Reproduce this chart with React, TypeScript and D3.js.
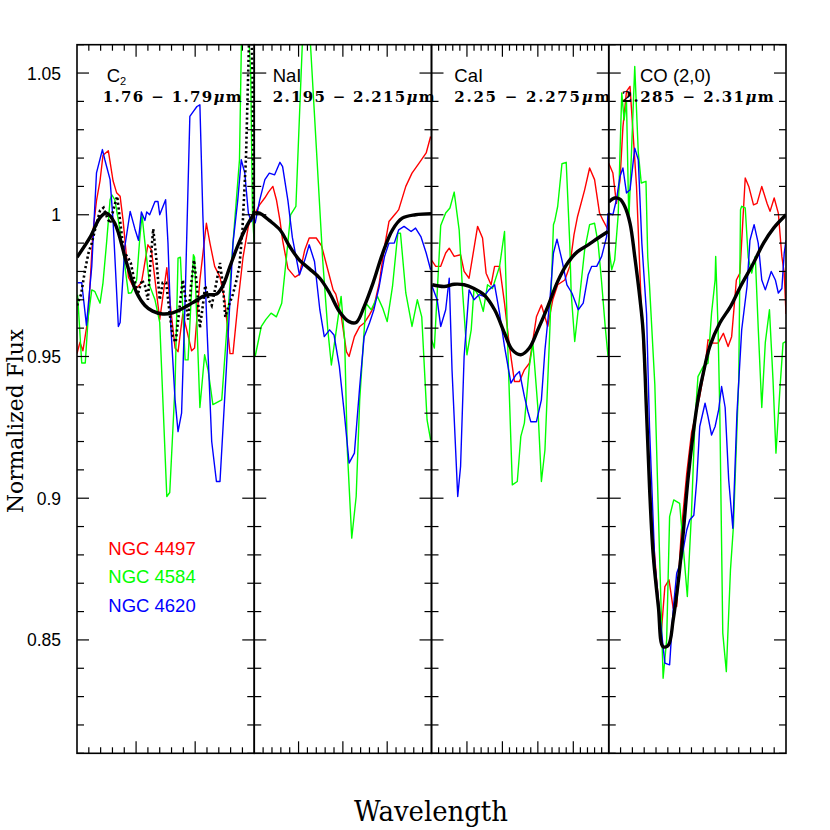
import React from 'react';
import * as d3 from 'd3';

type Pt = [number, number];

// wavelength ranges of the four panels (Angstrom)
const panelDomains: [number, number][] = [[17600, 17900], [21950, 22150], [22500, 22750], [22850, 23150]];
const majorSteps = [100, 50, 50, 100];
const minorSteps = [20, 10, 10, 20];
const speciesLabels = ['C', 'NaI', 'CaI', 'CO (2,0)'];
const rangeLabels = ['1.76 \u2212 1.79', '2.195 \u2212 2.215', '2.25 \u2212 2.275', '2.285 \u2212 2.31'];
const yTickValues = [0.85, 0.9, 0.95, 1, 1.05];
const yTickLabels = ['0.85', '0.9', '0.95', '1', '1.05'];
const galaxies = ['NGC 4497', 'NGC 4584', 'NGC 4620'];
const galaxyColors = ['#ff0000', '#00ff00', '#0000ff'];

// NGC 4497 (red)
const ngc4497: Pt[][] = [
  [[17600,0.951],[17605,0.955],[17610,0.952],[17619,0.964],[17627,0.994],[17633,1.005],[17639,1.012],[17644,1.021],[17653,1.0226],[17661,1.012],[17667,1.0078],[17673,1.0065],[17678,0.998],[17687,0.978],[17698,0.9735],[17709,0.976],[17720,0.9894],[17726,0.9876],[17740,0.963],[17752,0.9813],[17757,0.970],[17766,0.953],[17771,0.9517],[17779,0.965],[17785,0.960],[17794,0.952],[17799,0.953],[17808,0.977],[17819,0.997],[17825,0.990],[17833,0.9818],[17842,0.978],[17850,0.970],[17859,0.951],[17864,0.951],[17873,0.970],[17881,0.985],[17890,0.9959],[17900,1.0018]],
  [[21951,1.0006],[21956,1.0035],[21962,1.006],[21966,1.008],[21971,1.01],[21975,1.0053],[21979,0.998],[21982,0.991],[21988,0.981],[21996,0.978],[22001,0.979],[22007,0.9876],[22012,0.9918],[22020,0.9918],[22026,0.989],[22033,0.9806],[22039,0.9735],[22042,0.972],[22048,0.9647],[22054,0.9517],[22057,0.950],[22063,0.957],[22069,0.9606],[22074,0.9618],[22080,0.9647],[22085,0.9676],[22091,0.9759],[22097,0.9888],[22102,0.9976],[22110,1.0006],[22113,1.0018],[22121,1.01],[22128,1.0147],[22136,1.0182],[22144,1.0218],[22149,1.0276]],
  [[22500,0.984],[22506,0.9818],[22513,0.9818],[22520,0.9865],[22525,0.9882],[22532,0.9853],[22541,0.9859],[22546,0.98],[22553,0.9776],[22565,0.9959],[22572,0.9918],[22577,0.9794],[22584,0.9753],[22589,0.9818],[22596,0.9818],[22603,0.9688],[22610,0.9535],[22617,0.9412],[22624,0.9412],[22631,0.9453],[22638,0.9476],[22648,0.964],[22655,0.9682],[22664,0.9606],[22671,0.970],[22678,0.9753],[22688,0.977],[22695,0.9818],[22701,0.993],[22706,0.9994],[22716,1.0088],[22723,1.0165],[22730,1.0124],[22737,1.0006],[22742,0.998],[22749,0.9947]],
  [[22850,1.0182],[22857,1.0147],[22863,1.004],[22869,1.012],[22874,1.031],[22880,1.0435],[22886,1.0453],[22897,1.01],[22905,0.968],[22914,0.930],[22922,0.8948],[22931,0.8712],[22939,0.8529],[22945,0.8688],[22952,0.8712],[22959,0.8612],[22965,0.8618],[22973,0.8888],[22982,0.9088],[22990,0.923],[22999,0.9312],[23004,0.9359],[23013,0.9465],[23018,0.9559],[23027,0.9547],[23035,0.9547],[23044,0.9582],[23052,0.9535],[23058,0.957],[23066,0.977],[23072,0.9794],[23081,1.013],[23087,1.01],[23095,1.0035],[23101,1.004],[23109,1.01],[23118,1.004],[23123,1.0012],[23130,1.0059],[23137,1.0006],[23143,0.9853],[23147,0.9794],[23150,0.965]],
];

// NGC 4584 (green)
const ngc4584: Pt[][] = [
  [[17601,0.9718],[17608,0.9477],[17614,0.9477],[17619,0.964],[17625,0.9735],[17630,0.973],[17639,0.9688],[17644,0.976],[17650,0.99],[17656,1.0053],[17659,1.007],[17664,1.0053],[17670,0.998],[17676,0.990],[17687,0.9723],[17692,0.9725],[17701,0.977],[17706,0.991],[17710,1.0],[17715,0.99],[17723,0.975],[17732,0.97],[17740,0.962],[17752,0.9006],[17757,0.902],[17766,0.94],[17771,0.9847],[17775,0.985],[17783,0.9488],[17788,0.9488],[17797,0.9859],[17799,0.985],[17808,0.932],[17816,0.9506],[17822,0.945],[17830,0.933],[17845,0.9347],[17853,0.958],[17864,0.990],[17875,1.0194],[17879,1.07],[17889,1.07],[17894,1.05],[17897,1.0],[17900,0.99]],
  [[21951,0.950],[21958,0.9606],[21963,0.963],[21969,0.9653],[21975,0.964],[21981,0.9688],[21986,0.984],[21991,1.0],[21997,1.003],[22008,1.09],[22026,0.991],[22027,0.985],[22033,0.9594],[22037,0.947],[22042,0.958],[22048,0.9712],[22052,0.9559],[22055,0.917],[22060,0.8859],[22065,0.9006],[22069,0.9347],[22076,0.9688],[22082,0.9665],[22089,0.9712],[22095,0.967],[22100,0.9623],[22106,0.9747],[22112,0.9935],[22115,0.9935],[22121,0.9724],[22128,0.9606],[22134,0.970],[22139,0.964],[22145,0.9276],[22149,0.9206]],
  [[22500,0.956],[22504,0.953],[22513,0.9962],[22520,1.0006],[22526,1.0024],[22532,1.008],[22539,0.9947],[22544,0.9724],[22550,0.9506],[22556,0.9594],[22560,0.974],[22567,0.9712],[22573,0.9659],[22579,0.9753],[22586,0.974],[22596,0.9818],[22603,0.9941],[22608,0.95],[22614,0.9047],[22621,0.9059],[22626,0.9218],[22631,0.9265],[22638,0.9465],[22643,0.9547],[22650,0.932],[22655,0.9059],[22660,0.917],[22667,0.96],[22672,0.9965],[22674,0.998],[22678,1.003],[22684,1.018],[22690,1.0185],[22695,0.99],[22697,0.9724],[22702,0.9553],[22709,0.9712],[22716,0.9876],[22723,0.9965],[22730,0.997],[22735,0.99],[22740,0.976],[22745,0.9606],[22749,0.950]],
  [[22850,0.989],[22855,0.9806],[22860,0.984],[22866,1.0],[22872,1.043],[22876,1.0335],[22880,1.04],[22884,0.998],[22889,1.025],[22894,1.0523],[22900,1.022],[22905,1.0112],[22913,1.0118],[22916,0.985],[22919,0.975],[22928,0.94],[22936,0.88],[22942,0.8365],[22948,0.85],[22953,0.8935],[22960,0.8994],[22970,0.8982],[22976,0.8829],[22983,0.8653],[22990,0.8947],[22996,0.9276],[23001,0.9429],[23010,0.9465],[23018,0.9476],[23024,0.9653],[23030,0.977],[23031,0.9853],[23035,0.96],[23038,0.930],[23043,0.8524],[23049,0.8388],[23056,0.8747],[23061,0.89],[23070,0.9418],[23073,1.0018],[23075,1.003],[23081,1.0024],[23086,0.985],[23092,0.9794],[23098,0.9853],[23103,0.96],[23109,0.932],[23115,0.955],[23122,0.9665],[23128,0.9418],[23133,0.9159],[23140,0.9394],[23145,0.9547],[23150,0.9553]],
];

// NGC 4620 (blue)
const ngc4620: Pt[][] = [
  [[17601,0.976],[17608,0.976],[17616,0.961],[17625,0.9818],[17633,1.0148],[17643,1.023],[17647,1.0195],[17656,1.0124],[17661,0.998],[17670,0.9606],[17673,0.962],[17681,0.9888],[17690,1.0012],[17698,0.995],[17704,0.991],[17709,1.001],[17715,0.998],[17718,1.001],[17723,1.0],[17732,1.0047],[17737,1.0047],[17740,1.0],[17750,1.0053],[17754,0.99],[17759,0.96],[17766,0.9347],[17771,0.9235],[17777,0.93],[17783,0.97],[17791,1.0347],[17797,1.0365],[17803,1.0382],[17808,1.0388],[17813,1.0],[17820,0.96],[17828,0.92],[17836,0.9059],[17842,0.9059],[17853,0.9465],[17864,0.990],[17872,1.005],[17878,1.0194],[17884,1.0147],[17890,1.0006],[17895,0.9976],[17900,0.9994]],
  [[21951,0.997],[21956,1.005],[21962,1.0124],[21967,1.0147],[21973,1.0141],[21979,1.0185],[21982,1.017],[21988,1.005],[21993,0.992],[22001,0.9788],[22007,0.984],[22012,0.9894],[22018,0.9835],[22024,0.9665],[22029,0.957],[22035,0.9594],[22040,0.9576],[22046,0.9465],[22052,0.9288],[22057,0.9124],[22063,0.9159],[22069,0.9394],[22074,0.957],[22080,0.9618],[22085,0.9665],[22091,0.9747],[22097,0.9853],[22102,0.990],[22108,0.990],[22113,0.9947],[22119,0.9959],[22127,0.9941],[22132,0.9953],[22138,0.9923],[22144,0.9865],[22149,0.9806]],
  [[22500,0.9753],[22508,0.970],[22513,0.9606],[22520,0.9665],[22525,0.9776],[22529,0.945],[22537,0.9006],[22541,0.9112],[22546,0.95],[22553,0.9735],[22560,0.970],[22567,0.9718],[22574,0.9712],[22581,0.9735],[22589,0.9753],[22596,0.9653],[22603,0.9535],[22612,0.9406],[22619,0.9435],[22624,0.9447],[22631,0.9359],[22636,0.9306],[22640,0.927],[22648,0.927],[22655,0.9347],[22660,0.9523],[22667,0.970],[22672,0.9865],[22677,0.9914],[22684,0.984],[22691,0.9753],[22698,0.9724],[22707,0.9665],[22714,0.9688],[22721,0.9788],[22726,0.9818],[22733,0.9818],[22740,0.9853],[22747,0.9923],[22749,1.0006]],
  [[22850,1.0006],[22857,1.0],[22863,1.0053],[22869,1.0135],[22874,1.0165],[22880,1.0077],[22886,1.0088],[22894,1.0235],[22900,1.0194],[22906,0.99],[22914,0.965],[22919,0.925],[22928,0.877],[22936,0.8594],[22945,0.8418],[22953,0.8412],[22959,0.8606],[22965,0.8735],[22973,0.8782],[22982,0.8888],[22987,0.8923],[22994,0.894],[22999,0.9065],[23004,0.9253],[23013,0.9335],[23018,0.9288],[23024,0.9223],[23030,0.9253],[23036,0.9312],[23041,0.9394],[23047,0.932],[23053,0.9065],[23060,0.8894],[23067,0.930],[23075,0.9594],[23084,0.9747],[23089,0.991],[23096,0.9965],[23103,0.990],[23109,0.977],[23115,0.9735],[23125,0.98],[23132,0.977],[23137,0.9724],[23143,0.974],[23147,0.9865],[23150,0.991]],
];

// smooth template (thick black)
const template: Pt[][] = [
  [[17600,0.985],[17622,0.992],[17639,0.999],[17650,1.0006],[17664,0.997],[17684,0.983],[17701,0.9725],[17715,0.968],[17728,0.966],[17745,0.965],[17762,0.9654],[17779,0.967],[17796,0.969],[17819,0.9717],[17836,0.972],[17847,0.975],[17859,0.9818],[17872,0.989],[17887,0.9959],[17900,1.0005]],
  [[21951,1.0006],[21956,1.0006],[21967,0.998],[21979,0.9947],[21990,0.9888],[22001,0.984],[22012,0.981],[22024,0.9776],[22035,0.9724],[22046,0.9659],[22057,0.9623],[22065,0.962],[22074,0.9676],[22084,0.9759],[22095,0.9865],[22106,0.9947],[22117,0.9988],[22132,1.0],[22150,1.0004]],
  [[22501,0.9753],[22518,0.9747],[22532,0.9755],[22546,0.9753],[22560,0.974],[22574,0.9718],[22589,0.9665],[22603,0.9582],[22614,0.9523],[22626,0.9506],[22638,0.953],[22650,0.9594],[22664,0.9676],[22678,0.9765],[22692,0.983],[22706,0.987],[22721,0.9894],[22735,0.9918],[22749,0.9941]],
  [[22850,1.0045],[22860,1.0059],[22869,1.0055],[22877,1.003],[22886,0.997],[22894,0.9853],[22903,0.970],[22908,0.9594],[22914,0.930],[22919,0.904],[22925,0.8806],[22934,0.8617],[22942,0.8476],[22951,0.8482],[22959,0.857],[22968,0.8712],[22976,0.8876],[22984,0.9065],[22993,0.923],[23001,0.9347],[23010,0.9441],[23021,0.9535],[23038,0.9618],[23056,0.9676],[23073,0.9747],[23095,0.983],[23112,0.990],[23129,0.9953],[23150,1.0]],
];

// dotted black spectrum, first panel only
const dottedC2: Pt[] = [[17600,0.968],[17607,0.972],[17614,0.981],[17620,0.987],[17625,0.99],[17632,0.996],[17639,1.0015],[17645,1.0025],[17651,0.999],[17656,0.997],[17663,1.003],[17668,1.0065],[17674,0.996],[17679,0.987],[17686,0.985],[17691,0.983],[17696,0.978],[17703,0.972],[17710,0.977],[17715,0.975],[17720,0.970],[17725,0.985],[17729,0.995],[17734,0.985],[17740,0.970],[17745,0.976],[17751,0.976],[17757,0.965],[17762,0.957],[17767,0.955],[17774,0.968],[17779,0.977],[17784,0.970],[17788,0.963],[17793,0.975],[17798,0.984],[17803,0.975],[17808,0.960],[17813,0.968],[17817,0.975],[17823,0.970],[17828,0.968],[17835,0.975],[17842,0.983],[17847,0.975],[17851,0.964],[17857,0.968],[17864,0.972],[17870,0.977],[17875,0.982],[17880,0.995],[17886,1.02],[17891,1.06],[17894,1.075],[17897,1.05],[17899,1.0]];

const spectra = [ngc4497, ngc4584, ngc4620];

const LEFT = 77, RIGHT = 786, TOP = 44.7, BOTTOM = 753.3;
const PW = (RIGHT - LEFT) / 4;
const SANS = '"Liberation Sans", Arial, Helvetica, sans-serif';
const SERIF = '"DejaVu Serif", serif';

export default function App() {
  const y = d3.scaleLinear().domain([0.81, 1.06]).range([BOTTOM, TOP]);
  const xs = panelDomains.map((d, i) => d3.scaleLinear().domain(d).range([LEFT + i * PW, LEFT + (i + 1) * PW]));
  const yMinor = d3.range(81, 107).map(v => v / 100);

  // title positions (pixels) for each panel's labels
  const titleX = [106.7, 272.7, 454.3, 640];
  const rangeX = [102.7, 272.7, 454.3, 621.7];
  const rangeW = [139, 162, 156, 152];

  return (
    <svg width={830} height={830} style={{ position: 'absolute', left: 0, top: 0, background: '#fff' }}>
      <defs>
        {xs.map((x, i) => (
          <clipPath id={`clip${i}`} key={i}>
            <rect x={x.range()[0]} y={TOP} width={PW} height={BOTTOM - TOP} />
          </clipPath>
        ))}
      </defs>

      {xs.map((x, i) => {
        const line = d3.line<Pt>().x(d => x(d[0])).y(d => y(d[1]));
        const smooth = d3.line<Pt>().x(d => x(d[0])).y(d => y(d[1])).curve(d3.curveCatmullRom.alpha(0.5));
        return (
          <g key={i} clipPath={`url(#clip${i})`}>
            {spectra.map((s, j) => (
              <path key={j} d={line(s[i]) || ''} fill="none" stroke={galaxyColors[j]} strokeWidth={1.4} strokeLinejoin="round" />
            ))}
            {i === 0 && (
              <path d={line(dottedC2) || ''} fill="none" stroke="#000" strokeWidth={2.6} strokeDasharray="2.2,2.6" />
            )}
            <path d={smooth(template[i]) || ''} fill="none" stroke="#000" strokeWidth={3.4} strokeLinejoin="round" />
          </g>
        );
      })}

      {/* ticks */}
      {xs.map((x, i) => {
        const [d0, d1] = panelDomains[i];
        const vals = d3.range(d0 + minorSteps[i], d1 - 0.001, minorSteps[i]);
        const [r0, r1] = x.range();
        return (
          <g key={`t${i}`} stroke="#000" strokeWidth={1.2}>
            {vals.map(v => {
              const len = Math.round(v) % majorSteps[i] === 0 ? 12 : 6;
              return (
                <g key={v}>
                  <line x1={x(v)} x2={x(v)} y1={BOTTOM} y2={BOTTOM - len} />
                  <line x1={x(v)} x2={x(v)} y1={TOP} y2={TOP + len} />
                </g>
              );
            })}
            {yMinor.map(v => {
              const len = Math.round(v * 100) % 5 === 0 ? 12 : 7;
              return (
                <g key={v}>
                  <line x1={r0} x2={r0 + len} y1={y(v)} y2={y(v)} />
                  <line x1={r1} x2={r1 - len} y1={y(v)} y2={y(v)} />
                </g>
              );
            })}
          </g>
        );
      })}

      {/* panel frames */}
      {xs.map((x, i) => (
        <rect key={`f${i}`} x={x.range()[0]} y={TOP} width={PW} height={BOTTOM - TOP} fill="none" stroke="#000" strokeWidth={1.6} />
      ))}

      {/* y tick labels */}
      {yTickValues.map((v, k) => (
        <text key={v} x={61} y={y(v) + 6.5} textAnchor="end" fontFamily={SANS} fontSize={17.5}>{yTickLabels[k]}</text>
      ))}

      {/* panel titles */}
      {speciesLabels.map((s, i) => (
        <text key={`s${i}`} x={titleX[i]} y={82} fontFamily={SANS} fontSize={18.5}>
          {s}
          {i === 0 && <tspan fontSize={11} dy={3}>2</tspan>}
        </text>
      ))}
      {rangeLabels.map((s, i) => (
        <text key={`r${i}`} x={rangeX[i]} y={102} fontFamily={SERIF} fontWeight="bold" fontSize={15} textLength={rangeW[i]} lengthAdjust="spacing">
          {s}<tspan fontStyle="italic">{'\u03bc'}</tspan>m
        </text>
      ))}

      {/* legend */}
      {galaxies.map((g, j) => (
        <text key={g} x={108.3} y={555 + j * 28.3} fill={galaxyColors[j]} fontFamily={SANS} fontSize={18.5}>{g}</text>
      ))}

      {/* axis titles */}
      <text x={431} y={821} textAnchor="middle" fontFamily={SERIF} fontSize={28} textLength={154} lengthAdjust="spacingAndGlyphs">Wavelength</text>
      <text transform="translate(23,421) rotate(-90)" textAnchor="middle" fontFamily={SERIF} fontSize={23} textLength={184} lengthAdjust="spacingAndGlyphs">Normalized Flux</text>
    </svg>
  );
}
